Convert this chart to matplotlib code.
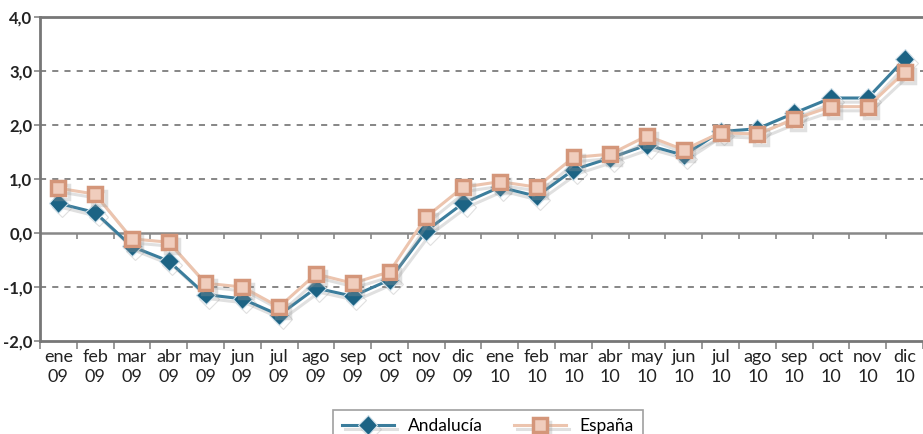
import matplotlib
matplotlib.use("Agg")
import matplotlib.pyplot as plt
import matplotlib.patheffects as pe
import numpy as np

# datos
meses = ["ene", "feb", "mar", "abr", "may", "jun", "jul", "ago", "sep", "oct", "nov", "dic"] * 2
anios = ["09"] * 12 + ["10"] * 12
andalucia = [0.55, 0.38, -0.25, -0.52, -1.14, -1.22, -1.52, -1.02, -1.17, -0.87, 0.04, 0.55,
             0.85, 0.68, 1.17, 1.39, 1.63, 1.44, 1.88, 1.93, 2.22, 2.5, 2.5, 3.22]
espana = [0.83, 0.72, -0.11, -0.17, -0.93, -1.0, -1.37, -0.76, -0.93, -0.72, 0.3, 0.85,
          0.95, 0.85, 1.4, 1.46, 1.8, 1.54, 1.86, 1.83, 2.11, 2.34, 2.34, 2.98]

plt.rcParams['font.family'] = ['Lato', 'DejaVu Sans']

fig = plt.figure(figsize=(9.23, 4.34), dpi=100)
ax = fig.add_axes([0.0433, 0.2143, 0.9567, 0.7465])

x = np.arange(len(meses))
sombra = [pe.SimpleLineShadow(offset=(2.5, -3), shadow_color="#999", alpha=0.3), pe.Normal()]

ax.plot(x, andalucia, color="#3b7d9c", lw=2.2, marker="D", ms=10,
        mfc="#1c6384", mec="#cfe0ea", mew=0.8, label="Andalucía", zorder=4,
        path_effects=sombra)
ax.plot(x, espana, color="#ecc4ae", lw=2.2, marker="s", ms=10,
        mfc="#f0cdbd", mec="#d4967a", mew=2.5, label="España", zorder=5,
        path_effects=sombra)

ax.set_xlim(-0.5, len(meses) - 0.5)
ax.set_ylim(-2, 4)
ax.set_yticks([-2, -1, 0, 1, 2, 3, 4])
ax.set_yticklabels(["-2,0", "-1,0", "0,0", "1,0", "2,0", "3,0", "4,0"],
                   fontsize=12, fontweight="bold", color="#222")

for v in [-1, 1, 2, 3]:
    ax.axhline(v, color="#666", lw=1.1, ls=(0, (4, 4)), zorder=1)
ax.axhline(0, color="#888", lw=1.8, zorder=2)
limites = np.arange(len(meses) + 1) - 0.5
ax.vlines(limites[1:-1], -0.12, 0, color="#888", lw=1.2, zorder=2)

ax.set_xticks(limites, minor=True)
ax.set_xticks(x)
ax.set_xticklabels([f"{m}\n{a}" for m, a in zip(meses, anios)], fontsize=13,
                   color="#222", linespacing=1.25)
ax.tick_params(axis="x", which="major", length=0, pad=6)
ax.tick_params(axis="x", which="minor", length=6, width=1.2, color="#888")
ax.tick_params(axis="y", length=4, width=1.2, color="#888", pad=1.5)

for s in ["left", "bottom", "top"]:
    ax.spines[s].set_color("#777")
    ax.spines[s].set_linewidth(2)
ax.spines["right"].set_visible(False)

leg = ax.legend(loc="upper center", bbox_to_anchor=(0.507, -0.185), ncol=2,
                frameon=True, fancybox=False, fontsize=12.5, handlelength=3.0,
                columnspacing=1.8, borderpad=0.5, handletextpad=0.8)
leg.get_frame().set_edgecolor("#888")
leg.get_frame().set_linewidth(1.2)

fig.savefig("out.png", dpi=100)
